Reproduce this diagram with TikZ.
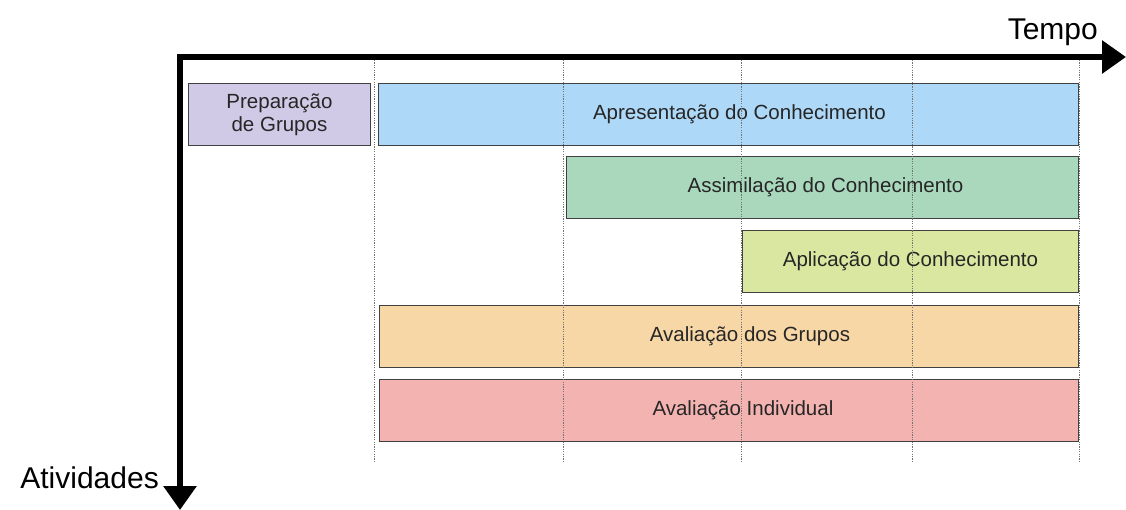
\documentclass[tikz,border=0pt]{standalone}
\usepackage{fontspec}
\setmainfont{Liberation Sans}
\usetikzlibrary{arrows.meta}
\definecolor{cprep}{HTML}{D0CAE6}
\definecolor{capre}{HTML}{AED8F8}
\definecolor{cassi}{HTML}{A9D8BD}
\definecolor{capli}{HTML}{D9E7A0}
\definecolor{caval}{HTML}{F8D7A6}
\definecolor{cindi}{HTML}{F3B3B1}
\tikzset{
  bar/.style={draw=black!75, line width=0.9pt, inner sep=0pt, anchor=north west,
    font=\fontsize{20.5}{25}\selectfont, text=black!85},
  grid/.style={draw=black!55, line width=0.6pt, dash pattern=on 1.2pt off 1.2pt},
  axis/.style={line width=6pt, line join=miter, {Triangle[length=24pt,width=32pt]}-{Triangle[length=24pt,width=32pt]}},
  axlabel/.style={font=\fontsize{30}{34}\selectfont, inner sep=0pt}
}
\begin{document}
\begin{tikzpicture}[x=1pt,y=-1pt]
\useasboundingbox (0,0) rectangle (1126,510);
% bars
\node[bar, fill=cprep, minimum width=182pt, minimum height=62pt, align=center] (prep) at (188,83) {Preparação\\[-2pt]de Grupos};
\node[bar, fill=capre, minimum width=700pt, minimum height=62pt] (apre) at (378,83) {\hspace*{22pt}Apresentação do Conhecimento};
\node[bar, fill=cassi, minimum width=512pt, minimum height=62pt] (assi) at (566,156) {\hspace*{6pt}Assimilação do Conhecimento};
\node[bar, fill=capli, minimum width=336pt, minimum height=62pt] (apli) at (742,230) {Aplicação do Conhecimento};
\node[bar, fill=caval, minimum width=699pt, minimum height=62pt] (aval) at (379,305) {\hspace*{42pt}Avaliação dos Grupos};
\node[bar, fill=cindi, minimum width=699pt, minimum height=62pt] (indi) at (379,379) {\hspace*{28pt}Avaliação Individual};
% dotted time grid
\foreach \gx/\nm in {374/ga,563/gb,741/gc,912/gd,1079/ge} {
  \coordinate (\nm t) at (\gx,60);
  \coordinate (\nm b) at (\gx,462);
  \draw[grid] (\nm t) -- (\nm b);
}
% axes
\coordinate (orig) at (180,57);
\coordinate (tend) at (1126,57);
\coordinate (aend) at (180,510);
\draw[axis] (tend) -- (orig) -- (aend);
\node[axlabel, anchor=base east] (tempo) at (1098,40) {Tempo};
\node[axlabel, anchor=base east] (ativ) at (159,488) {Atividades};
\end{tikzpicture}
\end{document}
